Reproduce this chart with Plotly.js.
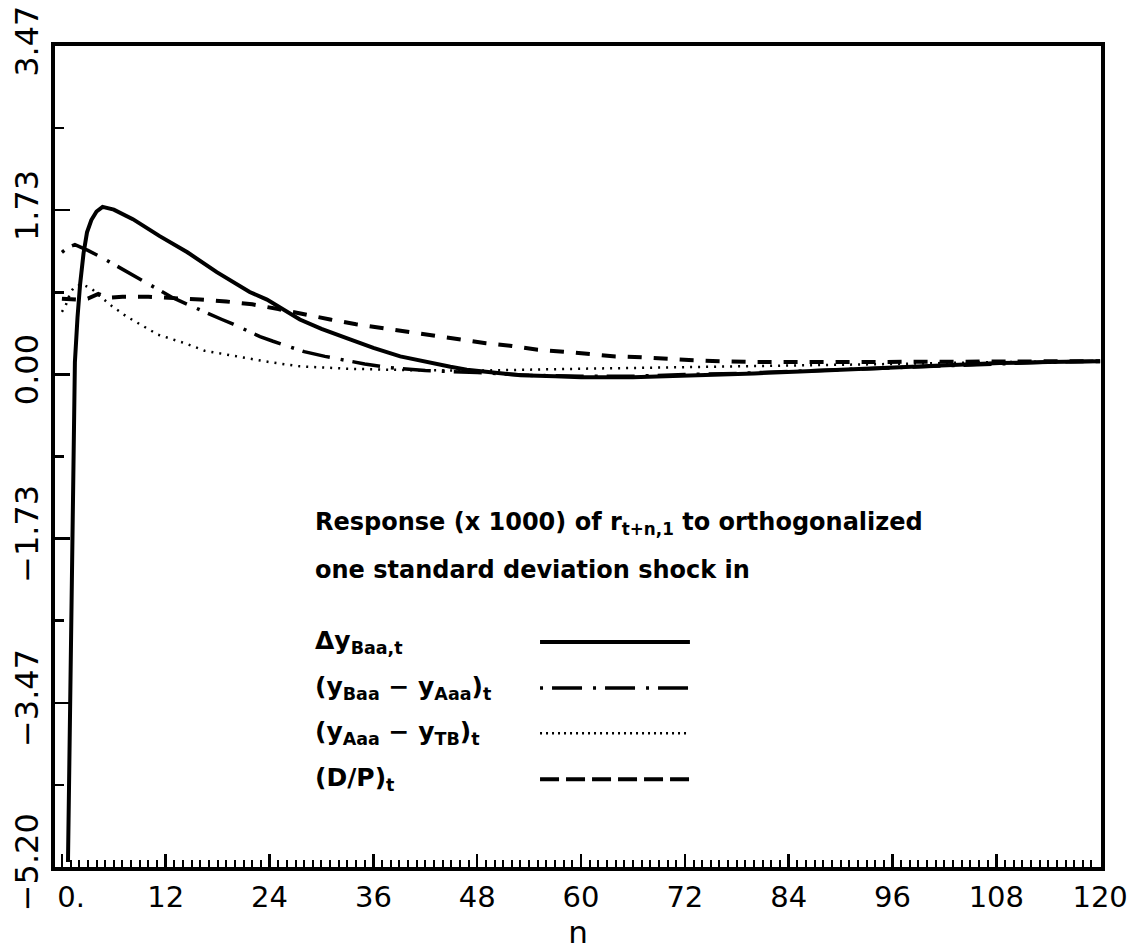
<!DOCTYPE html>
<html>
<head>
<meta charset="utf-8">
<script src="https://cdn.plot.ly/plotly-3.0.1.min.js"></script>
<style>html,body{margin:0;padding:0;background:#fff;}#chart{width:1139px;height:950px;}</style>
</head>
<body>
<div id="chart"></div>
<script>
// ---- data ----
const nDy = [0.7, 1.0, 1.3, 1.5, 1.8, 2.1, 2.5, 2.9, 3.4, 4.0, 4.7, 6.0, 8.2, 11.3, 14.5, 17.9, 21.7, 23.7, 27.5, 30, 33.3, 36, 39.1, 42, 44.9, 46.8, 50, 53, 57, 60, 66, 70, 73.8, 80, 85.3, 90, 96.9, 102, 108.4, 114, 120];
const dyBaa = [-5.15, -2.9, -0.58, 0.13, 0.6, 0.95, 1.28, 1.50, 1.63, 1.72, 1.77, 1.74, 1.64, 1.46, 1.29, 1.08, 0.87, 0.79, 0.58, 0.48, 0.37, 0.28, 0.19, 0.13, 0.08, 0.05, 0.02, -0.01, -0.02, -0.03, -0.03, -0.02, 0.0, 0.01, 0.03, 0.05, 0.08, 0.10, 0.12, 0.13, 0.14];

const nBaaAaa = [0, 0.7, 1.5, 3, 4.7, 6.4, 7.9, 9.5, 11, 12.8, 15, 17.1, 18.5, 19.8, 21.5, 22.9, 24.4, 26, 28, 30.4, 32, 35, 38, 42, 45, 48, 54, 60, 66, 72, 78, 84, 90, 96, 102, 108, 114, 120];
const baaAaa = [1.29, 1.34, 1.37, 1.31, 1.23, 1.14, 1.06, 0.98, 0.90, 0.81, 0.72, 0.63, 0.58, 0.53, 0.46, 0.40, 0.35, 0.30, 0.24, 0.19, 0.16, 0.11, 0.07, 0.04, 0.03, 0.02, -0.01, -0.02, -0.02, 0.00, 0.01, 0.03, 0.05, 0.07, 0.09, 0.11, 0.13, 0.14];

const nAaaTB = [0, 0.4, 1.0, 1.5, 2.4, 3.5, 4.6, 5.8, 7.5, 9, 11.1, 12.8, 14.2, 16.5, 20.2, 24, 27.5, 33, 40, 48, 60, 72, 84, 96, 108, 120];
const aaaTB = [0.66, 0.72, 0.87, 0.93, 0.95, 0.90, 0.81, 0.72, 0.61, 0.53, 0.42, 0.37, 0.33, 0.25, 0.19, 0.13, 0.085, 0.06, 0.045, 0.04, 0.06, 0.075, 0.09, 0.11, 0.13, 0.14];

const nDP = [0, 1.7, 3, 4.2, 5.2, 7, 10, 13, 16, 19, 22, 25, 27.5, 31, 34, 37, 40, 43, 46, 49, 52, 55, 58, 61, 64, 67, 70, 73, 76, 80, 90, 100, 110, 120];
const dp = [0.80, 0.79, 0.80, 0.85, 0.81, 0.82, 0.82, 0.81, 0.79, 0.77, 0.74, 0.69, 0.64, 0.58, 0.53, 0.49, 0.44, 0.40, 0.37, 0.33, 0.30, 0.26, 0.24, 0.21, 0.19, 0.18, 0.16, 0.15, 0.14, 0.13, 0.13, 0.13, 0.13, 0.14];

const xTickVals = [0, 12, 24, 36, 48, 60, 72, 84, 96, 108, 120];
const xTickText = ['\u00a0\u00a00.', '12', '24', '36', '48', '60', '72', '84', '96', '108', '120'];
const yTickVals = [-5.2026, -3.4684, -1.7342, 0, 1.7342, 3.4684];
const yTickText = ['\u22125.20', '\u22123.47', '\u22121.73', '0.00', '1.73', '3.47'];
const yMinorVals = [-4.3355, -2.6013, -0.8671, 0.8671, 2.6013];

const noteLines = ['Response (x 1000) of r<sub>t+n,1</sub> to orthogonalized', 'one standard deviation shock in'];
const seriesLabels = ['\u0394y<sub>Baa,t</sub>', '(y<sub>Baa</sub> \u2212 y<sub>Aaa</sub>)<sub>t</sub>', '(y<sub>Aaa</sub> \u2212 y<sub>TB</sub>)<sub>t</sub>', '(D/P)<sub>t</sub>'];

// ---- styles ----
const styles = [
  {width: 4, dash: 'solid'},
  {width: 3.5, dash: '3px,9px,28px,11px'},
  {width: 2.5, dash: '2px,6px'},
  {width: 4, dash: '14px,12px'}
];
const legendDash = ['solid', '3px,9px,30px,11px', '2px,4px', '19px,7px'];

const traces = [
  {x: nDy, y: dyBaa},
  {x: nBaaAaa, y: baaAaa},
  {x: nAaaTB, y: aaaTB},
  {x: nDP, y: dp}
].map((d, i) => ({
  type: 'scatter', mode: 'lines', x: d.x, y: d.y, name: seriesLabels[i],
  line: {color: '#000', width: styles[i].width, dash: styles[i].dash, shape: 'linear'},
  showlegend: false, hoverinfo: 'skip'
}));

const fontFam = 'DejaVu Sans, sans-serif';
const annotations = [];
const shapes = [];
const noteY = [0.419, 0.362];
noteLines.forEach((t, i) => annotations.push({
  xref: 'paper', yref: 'paper', x: 0.2467, y: noteY[i], xanchor: 'left', yanchor: 'middle',
  text: t, showarrow: false, font: {family: fontFam, size: 24, color: '#000', weight: 'bold'}
}));
const rowY = [0.274, 0.218, 0.163, 0.107];
seriesLabels.forEach((t, i) => {
  annotations.push({
    xref: 'paper', yref: 'paper', x: 0.2467, y: rowY[i], xanchor: 'left', yanchor: 'middle',
    text: t, showarrow: false, font: {family: fontFam, size: 25, color: '#000', weight: 'bold'}
  });
  shapes.push({
    type: 'line', xref: 'paper', yref: 'paper', x0: 0.4637, x1: 0.607, y0: rowY[i], y1: rowY[i],
    line: {color: '#000', width: styles[i].width, dash: legendDash[i]}
  });
});

const layout = {
  width: 1139, height: 950,
  margin: {l: 55, r: 38, t: 46, b: 83},
  paper_bgcolor: '#fff', plot_bgcolor: '#fff',
  font: {family: fontFam, color: '#000'},
  showlegend: false,
  xaxis: {
    range: [-0.8, 120.1], showgrid: false, zeroline: false,
    showline: true, linewidth: 4, linecolor: '#000', mirror: true,
    tickmode: 'array', tickvals: xTickVals, ticktext: xTickText,
    ticks: 'inside', ticklen: 13, tickwidth: 2.5, tickcolor: '#000',
    minor: {tickmode: 'linear', tick0: 0, dtick: 1, ticks: 'inside', ticklen: 7, tickwidth: 2, tickcolor: '#000', showgrid: false},
    tickfont: {size: 29, family: fontFam}, ticklabelstandoff: 1,
    title: {text: 'n', font: {size: 31, family: fontFam}, standoff: 20}
  },
  yaxis: {
    range: [-5.2026, 3.4684], showgrid: false, zeroline: false,
    showline: true, linewidth: 4, linecolor: '#000', mirror: true,
    tickmode: 'array', tickvals: yTickVals, ticktext: yTickText,
    ticks: 'inside', ticklen: 15, tickwidth: 2.5, tickcolor: '#000',
    minor: {tickmode: 'array', tickvals: yMinorVals, ticks: 'inside', ticklen: 9, tickwidth: 2.5, tickcolor: '#000', showgrid: false},
    tickangle: -90, tickfont: {size: 32, family: fontFam}, ticklabelstandoff: 0
  },
  annotations: annotations,
  shapes: shapes
};

Plotly.newPlot('chart', traces, layout, {displayModeBar: false, staticPlot: true});
</script>
</body>
</html>
